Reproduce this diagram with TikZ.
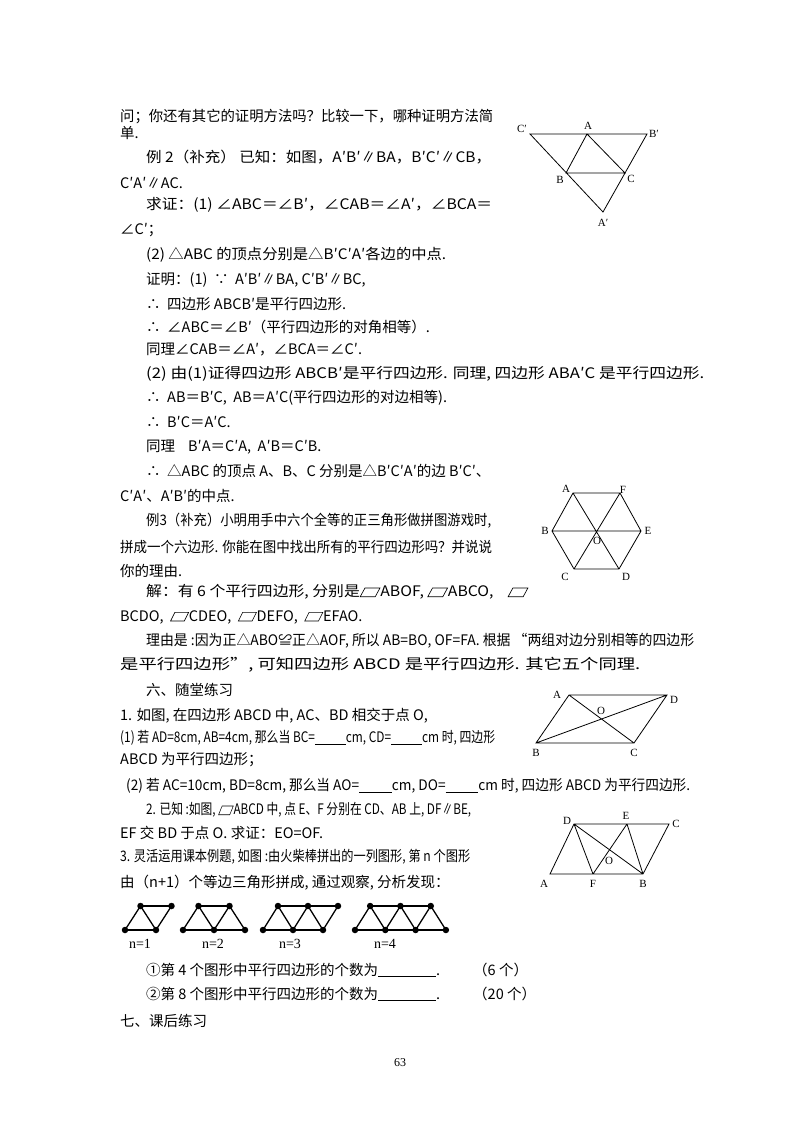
\documentclass[tikz,border=0pt]{standalone}
\usepackage{fontspec}
\usepackage{graphicx}
\setmainfont{Noto Sans CJK SC}
\newfontfamily\ser{Liberation Serif}
\newcommand{\pgram}{\tikz[baseline=0pt,x=1em,y=1em]{\draw[line width=0.6pt] (0,0)--(0.95,0)--(1.25,0.6)--(0.3,0.6)--cycle;}}
\newcommand{\blank}[1]{\underline{\hspace{#1}}}
\tikzset{
  tl/.style={anchor=west,inner sep=0pt,font=\fontsize{14.5}{16}\selectfont},
  lab/.style={inner sep=0pt,font=\ser\fontsize{11}{12}\selectfont},
  fig/.style={line width=0.8pt},
  mfig/.style={line width=1.3pt},
  dot/.style={circle,fill,inner sep=0pt,minimum size=6.5pt}
}
\newcommand{\fit}[2]{\resizebox{#1pt}{\height}{#2}}
\begin{document}
\begin{tikzpicture}[x=1pt,y=-1pt]
\useasboundingbox[fill=white] (0,0) rectangle (800,1132);
% text
\node[tl] (t1) at (120,117) {\fit{373}{问；你还有其它的证明方法吗？比较一下，哪种证明方法简}};
\node[tl] (t2) at (120,133) {单.};
\node[tl] (t3) at (146,157) {\fit{345}{例 2（补充） 已知：如图，A′B′∥BA，B′C′∥CB，}};
\node[tl] (t4) at (120,183) {C′A′∥AC.};
\node[tl] (t5) at (146,205) {\fit{346}{求证：(1) ∠ABC＝∠B′，∠CAB＝∠A′，∠BCA＝}};
\node[tl] (t6) at (120,230) {∠C′；};
\node[tl] (t7) at (146,255) {\fit{300}{(2) △ABC 的顶点分别是△B′C′A′各边的中点.}};
\node[tl] (t8) at (146,280) {证明：(1)\ \ ∵\ \ A′B′∥BA, C′B′∥BC,};
\node[tl] (t9) at (146,304) {∴\ \ 四边形 ABCB′是平行四边形.};
\node[tl] (t10) at (146,327) {∴\ \ ∠ABC＝∠B′（平行四边形的对角相等）.};
\node[tl] (t11) at (146,350) {同理∠CAB＝∠A′，∠BCA＝∠C′.};
\node[tl] (t12) at (146,374) {\fit{558}{(2) 由(1)证得四边形 ABCB′是平行四边形. 同理, 四边形 ABA′C 是平行四边形.}};
\node[tl] (t13) at (146,398) {∴\ \ AB＝B′C,\ \ AB＝A′C(平行四边形的对边相等).};
\node[tl] (t14) at (146,422) {∴\ \ B′C＝A′C.};
\node[tl] (t15) at (146,447) {同理\ \ \ \ B′A＝C′A,\ \ A′B＝C′B.};
\node[tl] (t16) at (146,471) {∴\ \ △ABC 的顶点 A、B、C 分别是△B′C′A′的边 B′C′、};
\node[tl] (t17) at (120,496) {C′A′、A′B′的中点.};
\node[tl] (t18) at (146,521) {\fit{345}{例3（补充）小明用手中六个全等的正三角形做拼图游戏时,}};
\node[tl] (t19) at (120,547) {\fit{372}{拼成一个六边形. 你能在图中找出所有的平行四边形吗？并说说}};
\node[tl] (t20) at (120,571) {你的理由.};
\node[tl] (t21) at (146,592) {\fit{382}{解：有 6 个平行四边形, 分别是\pgram ABOF,\ \pgram ABCO,\ \ \ \ \pgram}};
\node[tl] (t22) at (120,617) {BCDO,\ \ \pgram CDEO,\ \ \pgram DEFO,\ \ \pgram EFAO.};
\node[tl] (t23) at (146,641) {\fit{548}{理由是 :因为正△ABO≌正△AOF, 所以 AB=BO, OF=FA. 根据 “两组对边分别相等的四边形}};
\node[tl] (t24) at (120,665) {\fit{520}{是平行四边形”, 可知四边形 ABCD 是平行四边形. 其它五个同理.}};
\node[tl] (t25) at (146,690) {六、随堂练习};
\node[tl] (t26) at (120,716) {1. 如图, 在四边形 ABCD 中, AC、BD 相交于点 O,};
\node[tl] (t27) at (120,738) {\fit{375}{(1) 若 AD=8cm, AB=4cm, 那么当 BC=\blank{2.6em}cm, CD=\blank{2.6em}cm 时, 四边形}};
\node[tl] (t28) at (120,760) {ABCD 为平行四边形；};
\node[tl] (t29) at (126,786) {\fit{564}{(2) 若 AC=10cm, BD=8cm, 那么当 AO=\blank{2.4em}cm, DO=\blank{2.4em}cm 时, 四边形 ABCD 为平行四边形.}};
\node[tl] (t30) at (146,810) {\fit{325}{2. 已知 :如图, \pgram ABCD 中, 点 E、F 分别在 CD、AB 上, DF∥BE,}};
\node[tl] (t31) at (120,833) {EF 交 BD 于点 O. 求证：EO=OF.};
\node[tl] (t32) at (120,857) {\fit{350}{3. 灵活运用课本例题, 如图 :由火柴棒拼出的一列图形, 第 n 个图形}};
\node[tl] (t33) at (120,883) {由（n+1）个等边三角形拼成, 通过观察, 分析发现：};
\node[tl] (t34) at (146,970) {①第 4 个图形中平行四边形的个数为\blank{4em}.};
\node[tl] (t34b) at (473,970) {（6 个）};
\node[tl] (t35) at (146,994) {②第 8 个图形中平行四边形的个数为\blank{4em}.};
\node[tl] (t35b) at (473,994) {（20 个）};
\node[tl] (t36) at (120,1021) {七、课后练习};
\node[font=\ser\fontsize{12}{13}\selectfont] (pg) at (400,1063) {63};
% figure 1
\coordinate (Cp) at (530,134); \coordinate (Bp) at (647,134);
\coordinate (A1) at (587,134); \coordinate (B1) at (566,173);
\coordinate (C1) at (625,173); \coordinate (Ap) at (603,212);
\draw[fig] (Cp)--(Bp)--(Ap)--cycle (A1)--(B1)--(C1)--cycle;
\node[lab] at (522,129) {C′}; \node[lab] at (588,126) {A};
\node[lab] at (654,134) {B′}; \node[lab] at (560,180) {B};
\node[lab] at (631,179) {C}; \node[lab] at (603,223) {A′};
% hexagon
\coordinate (HA) at (573,493); \coordinate (HF) at (620,493);
\coordinate (HB) at (552,531); \coordinate (HE) at (641,531);
\coordinate (HC) at (574,569); \coordinate (HD) at (619,569);
\draw[fig] (HA)--(HF)--(HE)--(HD)--(HC)--(HB)--cycle (HB)--(HE) (HA)--(HD) (HF)--(HC);
\node[lab] at (566,489) {A}; \node[lab] at (623,490) {F};
\node[lab] at (545,531) {B}; \node[lab] at (648,531) {E};
\node[lab] at (565,577) {C}; \node[lab] at (626,577) {D};
\node[lab] at (597,541) {O};
% parallelogram ABCD
\coordinate (PA) at (569,695); \coordinate (PD) at (667,695);
\coordinate (PB) at (536,743); \coordinate (PC) at (634,743);
\draw[fig] (PA)--(PD)--(PC)--(PB)--cycle (PA)--(PC) (PB)--(PD);
\node[lab] at (557,695) {A}; \node[lab] at (674,700) {D};
\node[lab] at (536,753) {B}; \node[lab] at (634,753) {C};
\node[lab] at (601,711) {O};
% last figure
\coordinate (QA) at (550,874); \coordinate (QF) at (593,874);
\coordinate (QB) at (643,874); \coordinate (QD) at (574,824);
\coordinate (QE) at (627,824); \coordinate (QC) at (669,824);
\draw[fig] (QA)--(QB)--(QC)--(QD)--cycle (QD)--(QF) (QD)--(QB) (QE)--(QF) (QE)--(QB);
\node[lab] at (567,821) {D}; \node[lab] at (626,816) {E};
\node[lab] at (676,824) {C}; \node[lab] at (544,884) {A};
\node[lab] at (593,884) {F}; \node[lab] at (643,884) {B};
\node[lab] at (609,861) {O};
% matchstick figures
\foreach \x/\n/\s in {125/1/31, 183/2/31, 263/3/30, 355/4/30.3}{
  \pgfmathtruncatemacro{\last}{\n+2}
  \foreach \i in {0,...,\last}{
    \pgfmathtruncatemacro{\odd}{mod(\i,2)}
    \pgfmathsetmacro{\px}{\x+\i*\s/2}
    \ifnum\odd=0
      \node[dot] (m\n b\i) at (\px,930) {};
    \else
      \node[dot] (m\n b\i) at (\px,906) {};
    \fi
  }
  \foreach \i in {1,...,\last}{
    \pgfmathtruncatemacro{\j}{\i-1}
    \draw[mfig] (m\n b\j.center)--(m\n b\i.center);
  }
  \pgfmathtruncatemacro{\lastm}{\last-2}
  \foreach \i in {0,...,\lastm}{
    \pgfmathtruncatemacro{\j}{\i+2}
    \draw[mfig] (m\n b\i.center)--(m\n b\j.center);
  }
}
\node[lab,font=\ser\fontsize{14}{15}\selectfont] at (140,944) {n=1};
\node[lab,font=\ser\fontsize{14}{15}\selectfont] at (213,944) {n=2};
\node[lab,font=\ser\fontsize{14}{15}\selectfont] at (290,944) {n=3};
\node[lab,font=\ser\fontsize{14}{15}\selectfont] at (385,944) {n=4};
\end{tikzpicture}
\end{document}
